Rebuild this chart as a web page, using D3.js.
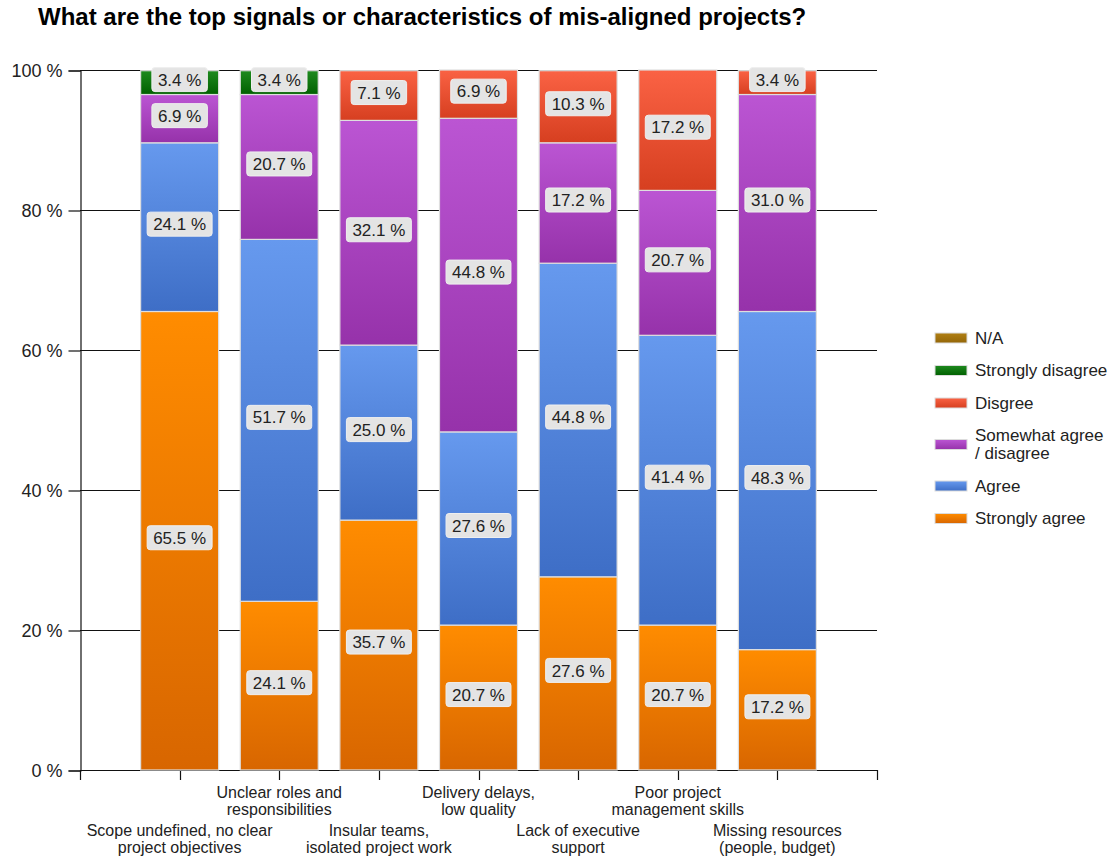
<!DOCTYPE html>
<html>
<head>
<meta charset="utf-8">
<script src="https://cdn.jsdelivr.net/npm/d3@7"></script>
<style>
  html, body { margin: 0; padding: 0; background: #fff; }
  svg { display: block; font-family: "Liberation Sans", Arial, sans-serif; }
</style>
</head>
<body>
<svg id="chart" width="1115" height="859"></svg>
<script>
// Survey answers per signal, in percent of respondents
const categories = [
  "Scope undefined, no clear|project objectives",
  "Unclear roles and|responsibilities",
  "Insular teams,|isolated project work",
  "Delivery delays,|low quality",
  "Lack of executive|support",
  "Poor project|management skills",
  "Missing resources|(people, budget)"
];
const stronglyAgree    = [65.5, 24.1, 35.7, 20.7, 27.6, 20.7, 17.2];
const agree            = [24.1, 51.7, 25.0, 27.6, 44.8, 41.4, 48.3];
const somewhatAgree    = [ 6.9, 20.7, 32.1, 44.8, 17.2, 20.7, 31.0];
const disagree         = [ 0,    0,    7.1,  6.9, 10.3, 17.2,  3.4];
const stronglyDisagree = [ 3.4,  3.4,  0,    0,    0,    0,    0  ];
const notApplicable    = [ 0,    0,    0,    0,    0,    0,    0  ];

// Stack order, bottom to top
const seriesKeys   = ["sa", "a", "sw", "d", "sd", "na"];
const seriesLabels = ["Strongly agree", "Agree", "Somewhat agree|/ disagree", "Disgree", "Strongly disagree", "N/A"];
const seriesValues = [stronglyAgree, agree, somewhatAgree, disagree, stronglyDisagree, notApplicable];
const yTickValues  = [0, 20, 40, 60, 80, 100];
const titleText = "What are the top signals or characteristics of mis-aligned projects?";

// Top/bottom gradient colours for each series
const gradientStops = {
  sa: ["#ff8c00", "#d86600"],
  a:  ["#6699ee", "#3e6ec6"],
  sw: ["#bb55d3", "#9632aa"],
  d:  ["#fa6244", "#d63f20"],
  sd: ["#1f8a1f", "#006000"],
  na: ["#b07f14", "#946608"]
};

const rows = categories.map((c, i) => {
  const r = { cat: c };
  seriesKeys.forEach((k, j) => { r[k] = seriesValues[j][i]; });
  return r;
});

const svg = d3.select("#chart");
const plot = { left: 80, right: 877, top: 70, bottom: 770 };

const x = d3.scalePoint().domain(categories).range([plot.left, plot.right]).padding(1);
const y = d3.scaleLinear().domain([0, 100]).range([plot.bottom, plot.top]);
const barW = 78;

// Gradients
const defs = svg.append("defs");
seriesKeys.forEach(k => {
  const g = defs.append("linearGradient").attr("id", "grad-" + k)
    .attr("x1", 0).attr("y1", 0).attr("x2", 0).attr("y2", 1);
  g.append("stop").attr("offset", "0%").attr("stop-color", gradientStops[k][0]);
  g.append("stop").attr("offset", "100%").attr("stop-color", gradientStops[k][1]);
});

// Title
svg.append("text")
  .attr("x", 38).attr("y", 25)
  .attr("font-size", 24).attr("font-weight", "bold").attr("fill", "#000")
  .text(titleText);

// Horizontal gridlines
svg.append("g").selectAll("line").data(yTickValues).join("line")
  .attr("x1", plot.left).attr("x2", plot.right)
  .attr("y1", d => Math.round(y(d)) + 0.5).attr("y2", d => Math.round(y(d)) + 0.5)
  .attr("stroke", "#111").attr("stroke-width", 1.2);

// Y axis
const yAxis = d3.axisLeft(y).tickValues(yTickValues).tickSize(12).tickPadding(6)
  .tickFormat(d => d + " %");
const yg = svg.append("g").attr("transform", `translate(${plot.left + 0.5},0.5)`).call(yAxis);
yg.select(".domain").attr("stroke", "#111").attr("stroke-width", 1.2);
yg.selectAll(".tick line").attr("stroke", "#111").attr("stroke-width", 1.2);
yg.selectAll(".tick text").attr("font-size", 18).attr("fill", "#222")
  .attr("font-family", "Liberation Sans, Arial, sans-serif");

// X axis: ticks at both ends and at each category
const xTickPos = [plot.left].concat(categories.map(c => x(c))).concat([plot.right]);
const xg = svg.append("g");
xg.append("line").attr("x1", plot.left).attr("x2", plot.right)
  .attr("y1", plot.bottom + 0.5).attr("y2", plot.bottom + 0.5)
  .attr("stroke", "#111").attr("stroke-width", 1.2);
xg.selectAll("line.tk").data(xTickPos).join("line").attr("class", "tk")
  .attr("x1", d => Math.round(d) + 0.5).attr("x2", d => Math.round(d) + 0.5)
  .attr("y1", plot.bottom).attr("y2", plot.bottom + 10)
  .attr("stroke", "#111").attr("stroke-width", 1.2);

// Category labels, alternating between two rows
xg.selectAll("text.cat").data(categories).join("text").attr("class", "cat")
  .attr("text-anchor", "middle").attr("font-size", 16).attr("fill", "#222")
  .each(function (d, i) {
    const lines = d.split("|");
    const baseY = i % 2 === 1 ? 798 : 836;
    d3.select(this).selectAll("tspan").data(lines).join("tspan")
      .attr("x", x(d)).attr("y", (l, j) => baseY + j * 17).text(l => l);
  });

// Stacked bars
const stacked = d3.stack().keys(seriesKeys)(rows);
const layers = svg.append("g").selectAll("g").data(stacked).join("g")
  .attr("fill", d => `url(#grad-${d.key})`);
layers.selectAll("rect").data(d => d.filter(s => s[1] - s[0] > 0)).join("rect")
  .attr("x", d => x(d.data.cat) - barW / 2)
  .attr("width", barW)
  .attr("y", d => y(d[1]))
  .attr("height", d => y(d[0]) - y(d[1]))
  .attr("stroke", "#dedede").attr("stroke-width", 1.2);

// Value labels
const labelData = [];
stacked.forEach(layer => {
  layer.forEach(s => {
    const v = s[1] - s[0];
    if (v > 0) labelData.push({ cat: s.data.cat, v: v, mid: (s[0] + s[1]) / 2 });
  });
});
const lab = svg.append("g").selectAll("g").data(labelData).join("g")
  .attr("transform", d => `translate(${x(d.cat)},${y(d.mid) - 3})`);
lab.append("text")
  .attr("text-anchor", "middle").attr("dy", "0.36em")
  .attr("font-size", 17).attr("fill", "#222")
  .text(d => d.v.toFixed(1) + " %");
lab.each(function () {
  const g = d3.select(this);
  const bb = g.select("text").node().getBBox();
  g.insert("rect", "text")
    .attr("x", bb.x - 6).attr("y", -12).attr("width", bb.width + 12).attr("height", 24)
    .attr("rx", 3).attr("fill", "#e4e4e4").attr("stroke", "#efefef");
});

// Legend, top to bottom
const legendOrder = seriesKeys.map((k, i) => ({ key: k, label: seriesLabels[i] })).reverse();
let cy = 338;
const legend = svg.append("g");
legendOrder.forEach((item, i) => {
  const lines = item.label.split("|");
  const h = lines.length === 1 ? 17 : 35;
  if (i > 0) {
    const prevH = legendOrder[i - 1].label.split("|").length === 1 ? 17 : 35;
    cy += (prevH + h) / 2 + 15.5;
  }
  const g = legend.append("g");
  g.append("rect").attr("x", 935).attr("y", cy - 5).attr("width", 32).attr("height", 10)
    .attr("fill", `url(#grad-${item.key})`).attr("stroke", "#dcdcdc").attr("stroke-width", 1);
  const t = g.append("text").attr("font-size", 17).attr("fill", "#222");
  lines.forEach((l, j) => {
    t.append("tspan").attr("x", 975)
      .attr("y", cy - (lines.length - 1) * 9 + j * 18).attr("dy", "0.35em").text(l);
  });
});
</script>
</body>
</html>
